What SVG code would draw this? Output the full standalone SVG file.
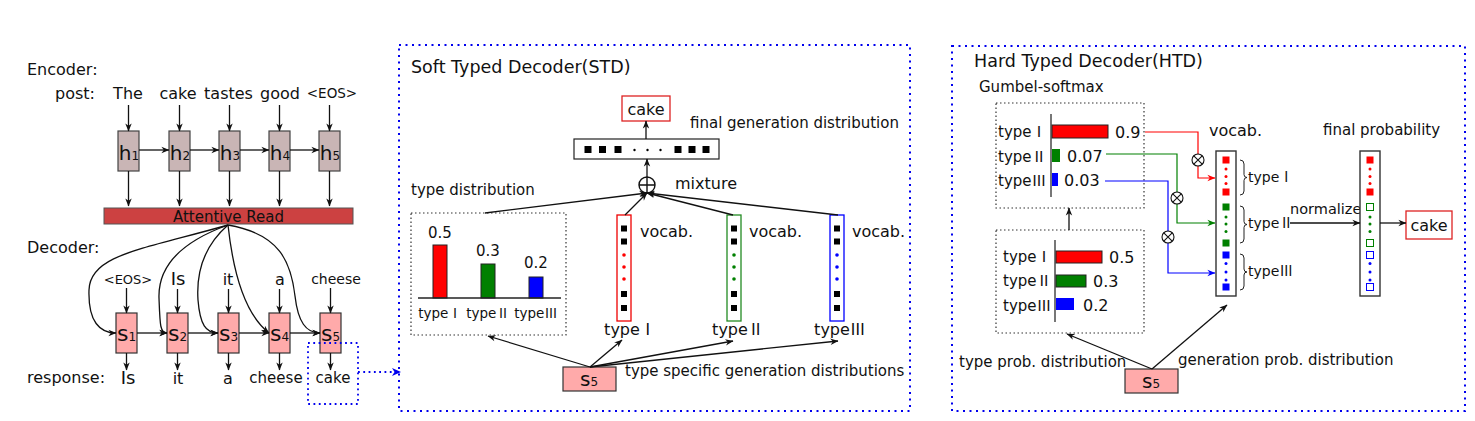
<svg xmlns="http://www.w3.org/2000/svg" width="1475" height="421" viewBox="0 0 1475 421">
<style>
text{font-family:"DejaVu Sans","Liberation Sans",sans-serif;fill:#111}
.rn{font-family:"Noto Sans CJK SC","DejaVu Serif",serif}
.ar{stroke:#111;stroke-width:1.3;fill:none;marker-end:url(#ah)}
.hb{fill:#c9b5b5;stroke:#444;stroke-width:1.2}
.sb{fill:#ffaaaa;stroke:#333;stroke-width:1.2}
.bd{fill:none;stroke:#0000ee;stroke-width:2;stroke-dasharray:2 4.5}
.kd{fill:none;stroke:#333;stroke-width:1.2;stroke-dasharray:1.5 2.5}
.sq{fill:#000}
</style>
<defs>
<marker id="ah" viewBox="0 0 10 10" refX="9.5" refY="5" markerWidth="9" markerHeight="8" orient="auto" markerUnits="userSpaceOnUse"><path d="M0,1 L10,5 L0,9 L3,5 z" fill="#111"/></marker>
<marker id="ahr" viewBox="0 0 10 10" refX="9.5" refY="5" markerWidth="9" markerHeight="8" orient="auto" markerUnits="userSpaceOnUse"><path d="M0,1 L10,5 L0,9 L3,5 z" fill="#ff0000"/></marker>
<marker id="ahg" viewBox="0 0 10 10" refX="9.5" refY="5" markerWidth="9" markerHeight="8" orient="auto" markerUnits="userSpaceOnUse"><path d="M0,1 L10,5 L0,9 L3,5 z" fill="#008000"/></marker>
<marker id="ahb" viewBox="0 0 10 10" refX="9.5" refY="5" markerWidth="9" markerHeight="8" orient="auto" markerUnits="userSpaceOnUse"><path d="M0,1 L10,5 L0,9 L3,5 z" fill="#0000ff"/></marker>
</defs>

<!-- ===== Left panel ===== -->
<g id="labels-left">
<text x="27" y="75" font-size="16">Encoder:</text>
<text x="55" y="99" font-size="16">post:</text>
<text x="128" y="99" font-size="16" text-anchor="middle">The</text>
<text x="178" y="99" font-size="16" text-anchor="middle">cake</text>
<text x="228.5" y="99" font-size="16" text-anchor="middle">tastes</text>
<text x="280" y="99" font-size="16" text-anchor="middle">good</text>
<text x="332" y="98" font-size="13.5" text-anchor="middle">&lt;EOS&gt;</text>
<text x="27" y="253" font-size="16">Decoder:</text>
<text x="128" y="284" font-size="13" text-anchor="middle">&lt;EOS&gt;</text>
<text x="178" y="285" font-size="18" text-anchor="middle">Is</text>
<text x="228" y="285" font-size="16" text-anchor="middle">it</text>
<text x="280" y="285" font-size="16" text-anchor="middle">a</text>
<text x="336" y="284" font-size="14" text-anchor="middle">cheese</text>
<text x="27" y="383" font-size="16">response:</text>
<text x="128" y="384" font-size="18" text-anchor="middle">Is</text>
<text x="178" y="384" font-size="16" text-anchor="middle">it</text>
<text x="228" y="384" font-size="16" text-anchor="middle">a</text>
<text x="276" y="383" font-size="15" text-anchor="middle">cheese</text>
<text x="333" y="383" font-size="15" text-anchor="middle">cake</text>
</g>

<g id="h1"><rect class="hb" x="118" y="131" width="21" height="40"/><text x="129" y="160" font-size="20" text-anchor="middle">h<tspan font-size="12">1</tspan></text></g>
<g id="h2"><rect class="hb" x="169" y="131" width="21" height="40"/><text x="180" y="160" font-size="20" text-anchor="middle">h<tspan font-size="12">2</tspan></text></g>
<g id="h3"><rect class="hb" x="219" y="131" width="21" height="40"/><text x="230" y="160" font-size="20" text-anchor="middle">h<tspan font-size="12">3</tspan></text></g>
<g id="h4"><rect class="hb" x="269" y="131" width="21" height="40"/><text x="280" y="160" font-size="20" text-anchor="middle">h<tspan font-size="12">4</tspan></text></g>
<g id="h5"><rect class="hb" x="319" y="131" width="21" height="40"/><text x="330" y="160" font-size="20" text-anchor="middle">h<tspan font-size="12">5</tspan></text></g>

<g id="attentive-read"><rect x="104" y="208" width="249" height="16" fill="#cc4141" stroke="#555" stroke-width="1"/><text x="228.5" y="222" font-size="15" text-anchor="middle" fill="#222">Attentive Read</text></g>

<g id="s1"><rect class="sb" x="116" y="313" width="21" height="40"/><text x="126.5" y="341" font-size="22" text-anchor="middle">s<tspan font-size="12">1</tspan></text></g>
<g id="s2"><rect class="sb" x="167" y="313" width="21" height="40"/><text x="177.5" y="341" font-size="22" text-anchor="middle">s<tspan font-size="12">2</tspan></text></g>
<g id="s3"><rect class="sb" x="218" y="313" width="21" height="40"/><text x="228.5" y="341" font-size="22" text-anchor="middle">s<tspan font-size="12">3</tspan></text></g>
<g id="s4"><rect class="sb" x="269" y="313" width="21" height="40"/><text x="279.5" y="341" font-size="22" text-anchor="middle">s<tspan font-size="12">4</tspan></text></g>
<g id="s5"><rect class="sb" x="320" y="313" width="21" height="40"/><text x="330.5" y="341" font-size="22" text-anchor="middle">s<tspan font-size="12">5</tspan></text></g>

<g id="highlight-box"><rect x="308" y="343" width="50" height="61" fill="none" stroke="#0000ee" stroke-width="1.8" stroke-dasharray="1.8 3.5"/></g>

<!-- ===== Middle panel ===== -->
<g id="std-panel">
<rect class="bd" x="399" y="45" width="511" height="366"/>
<text x="411" y="73" font-size="17.5">Soft Typed Decoder(STD)</text>
<text x="690" y="128" font-size="15">final generation distribution</text>
<text x="675" y="189" font-size="16">mixture</text>
<text x="411" y="195" font-size="15">type distribution</text>
<text x="625" y="376" font-size="15">type specific generation distributions</text>
</g>

<g id="std-cake"><rect x="622" y="96" width="48" height="25" fill="#fff" stroke="#dd2222" stroke-width="1.3"/><text x="646" y="115" font-size="16" text-anchor="middle">cake</text></g>

<g id="std-final-vector">
<rect x="574" y="139" width="145" height="20" fill="#fff" stroke="#222" stroke-width="1.2"/>
<rect class="sq" x="584.5" y="146" width="7" height="7"/><rect class="sq" x="599" y="146" width="7" height="7"/><rect class="sq" x="614.5" y="146" width="7" height="7"/>
<circle cx="634.5" cy="150" r="1.2"/><circle cx="647.5" cy="150" r="1.2"/><circle cx="660.5" cy="150" r="1.2"/>
<rect class="sq" x="674.5" y="146" width="7" height="7"/><rect class="sq" x="688.5" y="146" width="7" height="7"/><rect class="sq" x="702.5" y="146" width="7" height="7"/>
</g>

<g id="std-mixture"><circle cx="647" cy="185" r="8" fill="#fff" stroke="#111" stroke-width="1.4"/><path d="M639,185 H655 M647,177 V193" stroke="#111" stroke-width="1.4"/></g>

<g id="std-type-distribution">
<rect class="kd" x="411" y="213" width="155" height="122"/>
<rect x="433" y="245" width="14" height="53" fill="#ff0000" stroke="#222" stroke-width="1"/>
<rect x="481" y="264" width="14" height="34" fill="#008000" stroke="#222" stroke-width="1"/>
<rect x="529" y="277" width="14" height="21" fill="#0000ff" stroke="#222" stroke-width="1"/>
<line x1="418" y1="298" x2="561" y2="298" stroke="#222" stroke-width="1.3"/>
<text x="440" y="238" font-size="15" text-anchor="middle">0.5</text>
<text x="488" y="256" font-size="15" text-anchor="middle">0.3</text>
<text x="536" y="268" font-size="15" text-anchor="middle">0.2</text>
<text x="440" y="318" font-size="13.5" text-anchor="middle">type<tspan class="rn">Ⅰ</tspan></text>
<text x="488" y="318" font-size="13.5" text-anchor="middle">type<tspan class="rn">Ⅱ</tspan></text>
<text x="536" y="318" font-size="13.5" text-anchor="middle">type<tspan class="rn">Ⅲ</tspan></text>
</g>

<g id="std-vocab-1">
<rect x="617" y="215" width="14" height="106" fill="#fff" stroke="#ee0000" stroke-width="1.3"/>
<rect class="sq" x="621" y="225.5" width="6" height="6"/><rect class="sq" x="621" y="238.5" width="6" height="6"/>
<circle cx="624" cy="255" r="1.8" fill="#ff0000"/><circle cx="624" cy="267" r="1.8" fill="#ff0000"/><circle cx="624" cy="279" r="1.8" fill="#ff0000"/>
<rect class="sq" x="621" y="291" width="6" height="6"/><rect class="sq" x="621" y="305" width="6" height="6"/>
<text x="640" y="237" font-size="16">vocab.</text>
<text x="630" y="335" font-size="16" text-anchor="middle">type<tspan class="rn">Ⅰ</tspan></text>
</g>
<g id="std-vocab-2">
<rect x="727" y="215" width="14" height="106" fill="#fff" stroke="#228b22" stroke-width="1.3"/>
<rect class="sq" x="731" y="225.5" width="6" height="6"/><rect class="sq" x="731" y="238.5" width="6" height="6"/>
<circle cx="734" cy="255" r="1.8" fill="#008000"/><circle cx="734" cy="267" r="1.8" fill="#008000"/><circle cx="734" cy="279" r="1.8" fill="#008000"/>
<rect class="sq" x="731" y="291" width="6" height="6"/><rect class="sq" x="731" y="305" width="6" height="6"/>
<text x="749" y="237" font-size="16">vocab.</text>
<text x="738" y="335" font-size="16" text-anchor="middle">type<tspan class="rn">Ⅱ</tspan></text>
</g>
<g id="std-vocab-3">
<rect x="830" y="215" width="14" height="106" fill="#fff" stroke="#0000ff" stroke-width="1.3"/>
<rect class="sq" x="834" y="225.5" width="6" height="6"/><rect class="sq" x="834" y="238.5" width="6" height="6"/>
<circle cx="837" cy="255" r="1.8" fill="#0000ff"/><circle cx="837" cy="267" r="1.8" fill="#0000ff"/><circle cx="837" cy="279" r="1.8" fill="#0000ff"/>
<rect class="sq" x="834" y="291" width="6" height="6"/><rect class="sq" x="834" y="305" width="6" height="6"/>
<text x="852" y="237" font-size="16">vocab.</text>
<text x="840" y="335" font-size="16" text-anchor="middle">type<tspan class="rn">Ⅲ</tspan></text>
</g>

<g id="std-s5"><rect class="sb" x="563" y="367" width="53" height="24"/><text x="589" y="386" font-size="20" text-anchor="middle">s<tspan font-size="12">5</tspan></text></g>

<!-- ===== Right panel ===== -->
<g id="htd-panel">
<rect class="bd" x="952" y="46" width="513" height="365"/>
<text x="974" y="67" font-size="17.5">Hard Typed Decoder(HTD)</text>
<text x="979" y="92" font-size="15">Gumbel-softmax</text>
<text x="1209" y="136" font-size="16">vocab.</text>
<text x="1323" y="135" font-size="15">final probability</text>
<text x="1290" y="214" font-size="14.5">normalize</text>
<text x="959" y="367" font-size="15">type prob. distribution</text>
<text x="1178" y="365" font-size="15">generation prob. distribution</text>
</g>

<g id="htd-gumbel">
<rect class="kd" x="996" y="103" width="148" height="105"/>
<line x1="1051" y1="114" x2="1051" y2="197" stroke="#555" stroke-width="1.6"/>
<rect x="1052" y="125" width="56" height="13" fill="#ff0000" stroke="#222" stroke-width="1"/>
<rect x="1052" y="149" width="8" height="13" fill="#008000"/>
<rect x="1052" y="173" width="6" height="13" fill="#0000ff"/>
<text x="998" y="137" font-size="15">type<tspan class="rn">Ⅰ</tspan></text>
<text x="998" y="162" font-size="15">type<tspan class="rn">Ⅱ</tspan></text>
<text x="998" y="186" font-size="15">type<tspan class="rn">Ⅲ</tspan></text>
<text x="1115" y="138" font-size="16">0.9</text>
<text x="1067" y="162" font-size="16">0.07</text>
<text x="1064" y="186" font-size="16">0.03</text>
</g>

<g id="htd-type-prob">
<rect class="kd" x="996" y="230" width="148" height="103"/>
<line x1="1055" y1="240" x2="1055" y2="322" stroke="#555" stroke-width="1.6"/>
<rect x="1056" y="251" width="46" height="12" fill="#ff0000" stroke="#222" stroke-width="1"/>
<rect x="1056" y="275" width="30" height="12" fill="#008000" stroke="#222" stroke-width="1"/>
<rect x="1056" y="298" width="18" height="12" fill="#0000ff"/>
<text x="1003" y="262" font-size="15">type<tspan class="rn">Ⅰ</tspan></text>
<text x="1003" y="286" font-size="15">type<tspan class="rn">Ⅱ</tspan></text>
<text x="1003" y="311" font-size="15">type<tspan class="rn">Ⅲ</tspan></text>
<text x="1109" y="263" font-size="16">0.5</text>
<text x="1093" y="287" font-size="16">0.3</text>
<text x="1083" y="311" font-size="16">0.2</text>
</g>

<g id="htd-vocab">
<rect x="1216" y="151" width="20" height="145" fill="#fff" stroke="#333" stroke-width="1.4"/>
<rect x="1222.5" y="156.5" width="7" height="7" fill="#ff0000"/>
<circle cx="1226" cy="169" r="1.5" fill="#ff0000"/><circle cx="1226" cy="176.5" r="1.5" fill="#ff0000"/><circle cx="1226" cy="183.5" r="1.5" fill="#ff0000"/>
<rect x="1222.5" y="188.5" width="7" height="7" fill="#ff0000"/>
<rect x="1222.5" y="203.5" width="7" height="7" fill="#008000"/>
<circle cx="1226" cy="217" r="1.5" fill="#008000"/><circle cx="1226" cy="224" r="1.5" fill="#008000"/><circle cx="1226" cy="231.5" r="1.5" fill="#008000"/>
<rect x="1222.5" y="239.5" width="7" height="7" fill="#008000"/>
<rect x="1222.5" y="251.5" width="7" height="7" fill="#0000ff"/>
<circle cx="1226" cy="263.5" r="1.5" fill="#0000ff"/><circle cx="1226" cy="272" r="1.5" fill="#0000ff"/><circle cx="1226" cy="280" r="1.5" fill="#0000ff"/>
<rect x="1222.5" y="283.5" width="7" height="7" fill="#0000ff"/>
<path d="M1240,160 Q1244,160 1244,164 L1244,174.5 Q1244,177.5 1247,177.5 Q1244,177.5 1244,180.5 L1244,191 Q1244,195 1240,195" fill="none" stroke="#222" stroke-width="1"/>
<path d="M1240,206 Q1244,206 1244,210 L1244,221.5 Q1244,224.5 1247,224.5 Q1244,224.5 1244,227.5 L1244,239 Q1244,243 1240,243" fill="none" stroke="#222" stroke-width="1"/>
<path d="M1240,254 Q1244,254 1244,258 L1244,269 Q1244,272 1247,272 Q1244,272 1244,275 L1244,286 Q1244,290 1240,290" fill="none" stroke="#222" stroke-width="1"/>
<text x="1248" y="182" font-size="14">type<tspan class="rn">Ⅰ</tspan></text>
<text x="1248" y="228" font-size="14">type<tspan class="rn">Ⅱ</tspan></text>
<text x="1248" y="276" font-size="14">type<tspan class="rn">Ⅲ</tspan></text>
</g>

<g id="htd-final">
<rect x="1360" y="151" width="20" height="145" fill="#fff" stroke="#333" stroke-width="1.4"/>
<rect x="1366.5" y="156.5" width="7" height="7" fill="#ff0000"/>
<circle cx="1370" cy="169" r="1.5" fill="#ff0000"/><circle cx="1370" cy="176.5" r="1.5" fill="#ff0000"/><circle cx="1370" cy="183.5" r="1.5" fill="#ff0000"/>
<rect x="1366.5" y="188.5" width="7" height="7" fill="#ff0000"/>
<rect x="1366.5" y="203.5" width="7" height="7" fill="#fff" stroke="#008000" stroke-width="1"/>
<circle cx="1370" cy="217" r="1.5" fill="#008000"/><circle cx="1370" cy="224" r="1.5" fill="#008000"/><circle cx="1370" cy="231.5" r="1.5" fill="#008000"/>
<rect x="1366.5" y="239.5" width="7" height="7" fill="#fff" stroke="#008000" stroke-width="1"/>
<rect x="1366.5" y="251.5" width="7" height="7" fill="#fff" stroke="#0000ff" stroke-width="1"/>
<circle cx="1370" cy="263.5" r="1.5" fill="#0000ff"/><circle cx="1370" cy="272" r="1.5" fill="#0000ff"/><circle cx="1370" cy="280" r="1.5" fill="#0000ff"/>
<rect x="1366.5" y="283.5" width="7" height="7" fill="#fff" stroke="#0000ff" stroke-width="1"/>
</g>

<g id="htd-cake"><rect x="1406" y="211" width="46" height="28" fill="#fff" stroke="#dd2222" stroke-width="1.3"/><text x="1429" y="231" font-size="16" text-anchor="middle">cake</text></g>

<g id="htd-s5"><rect class="sb" x="1125" y="369" width="53" height="24"/><text x="1151" y="388" font-size="20" text-anchor="middle">s<tspan font-size="12">5</tspan></text></g>

<!-- ===== Connectors ===== -->
<g id="connectors">
<path class="ar" d="M128.5,105 V131"/><path class="ar" d="M179.5,105 V131"/><path class="ar" d="M229.5,105 V131"/><path class="ar" d="M279.5,105 V131"/><path class="ar" d="M329.5,105 V131"/>
<path class="ar" d="M139,150 H169"/><path class="ar" d="M190,150 H219"/><path class="ar" d="M240,150 H269"/><path class="ar" d="M290,150 H319"/>
<path class="ar" d="M128.5,171 V206"/><path class="ar" d="M179.5,171 V206"/><path class="ar" d="M229.5,171 V206"/><path class="ar" d="M279.5,171 V206"/><path class="ar" d="M329.5,171 V206"/>
<path class="ar" d="M228,225 C140,250 90,255 89,290 C88,322 100,333 116,333"/>
<path class="ar" d="M228,225 C178,243 158,268 159,298 C160,325 160,333 167,333"/>
<path class="ar" d="M228,225 C205,245 196,270 198,300 C200,325 206,333 218,333"/>
<path class="ar" d="M228,225 C232,262 242,312 269,333"/>
<path class="ar" d="M228,225 C280,234 291,262 295,296 C298,322 306,333 320,333"/>
<path class="ar" d="M126.5,288 V313"/><path class="ar" d="M177.5,289 V313"/><path class="ar" d="M228.5,289 V313"/><path class="ar" d="M279.5,289 V313"/><path class="ar" d="M330.5,288 V313"/>
<path class="ar" d="M137,333 H167"/><path class="ar" d="M188,333 H218"/><path class="ar" d="M239,333 H269"/><path class="ar" d="M290,333 H320"/>
<path class="ar" d="M126.5,353 V370"/><path class="ar" d="M177.5,353 V370"/><path class="ar" d="M228.5,353 V370"/><path class="ar" d="M279.5,353 V370"/><path class="ar" d="M330.5,353 V370"/>
<path d="M358,372 H392" fill="none" stroke="#0000ee" stroke-width="1.8" stroke-dasharray="1.8 3.5"/>
<path d="M392,368 L401,372 L392,376 L394.5,372 z" fill="#0000ee"/>
<path class="ar" d="M646,139 V121"/>
<path class="ar" d="M647,177 V159"/>
<path class="ar" d="M485,213 L647,193"/>
<path class="ar" d="M625,215 L647,193"/>
<path class="ar" d="M733,215 L647,193"/>
<path class="ar" d="M838,215 L647,193"/>
<path class="ar" d="M590,367 L488,336"/>
<path class="ar" d="M590,367 L622,340"/>
<path class="ar" d="M590,367 L733,341"/>
<path class="ar" d="M590,367 L838,341"/>
<path class="ar" d="M1069,230 V208"/>
<path class="ar" d="M1152,369 L1067,334"/>
<path class="ar" d="M1152,369 L1227,305"/>
<path d="M1145,132 H1198 V178 H1215" fill="none" stroke="#ff0000" stroke-width="1.2" marker-end="url(#ahr)"/>
<path d="M1106,154 H1177 V223 H1215" fill="none" stroke="#008000" stroke-width="1.2" marker-end="url(#ahg)"/>
<path d="M1105,181 H1168 V273 H1215" fill="none" stroke="#0000ff" stroke-width="1.2" marker-end="url(#ahb)"/>
<g fill="#fff" stroke="#111" stroke-width="1.1">
<circle cx="1198" cy="160" r="6"/><path d="M1193.8,155.8 L1202.2,164.2 M1202.2,155.8 L1193.8,164.2"/>
<circle cx="1177" cy="198" r="6"/><path d="M1172.8,193.8 L1181.2,202.2 M1181.2,193.8 L1172.8,202.2"/>
<circle cx="1168" cy="237" r="6"/><path d="M1163.8,232.8 L1172.2,241.2 M1172.2,232.8 L1163.8,241.2"/>
</g>
<path class="ar" d="M1290,223 H1360"/>
<path class="ar" d="M1380,223 H1406"/>
</g>
</svg>
